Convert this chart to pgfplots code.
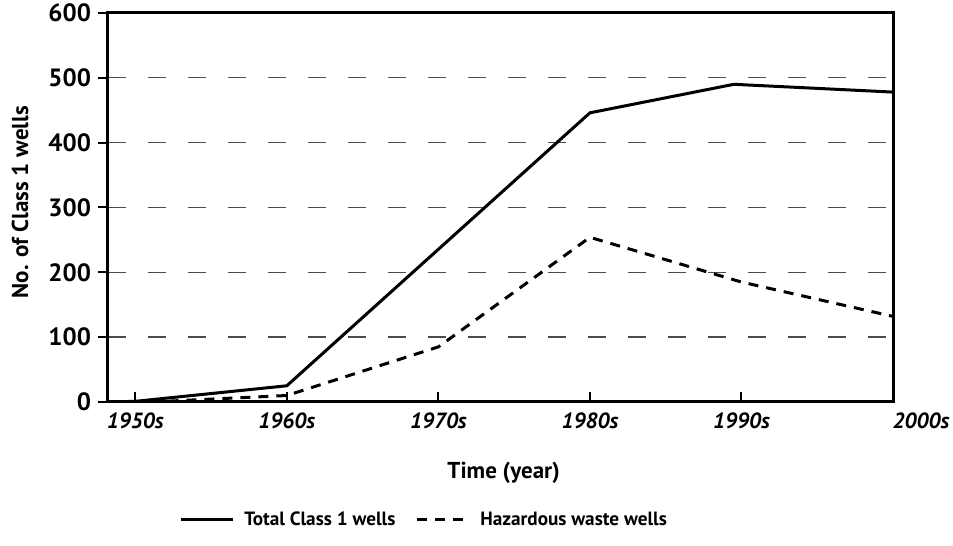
\documentclass[border=0pt]{standalone}
\usepackage{pgfplots}
\pgfplotsset{compat=1.18}
\usepackage{fontspec}
\setmainfont{PT Sans}
\begin{document}
\begin{tikzpicture}
\begin{axis}[
  name=ax,
  scale only axis,
  width=392.5pt, height=194.5pt,
  xmin=1948.2, xmax=2000,
  ymin=0, ymax=600,
  axis line style={line width=1.5pt},
  xtick={1950,1960,1970,1980,1990},
  xticklabels={1950s,1960s,1970s,1980s,1990s},
  extra x ticks={2000},
  extra x tick labels={2000s},
  extra x tick style={xticklabel style={xshift=14pt}, major tick length=0pt},
  ytick={0,100,...,600},
  xtick align=inside,
  ytick align=outside,
  major tick length=5pt,
  tick style={line width=1pt, black},
  xtick pos=bottom, ytick pos=left,
  xticklabel style={font=\bfseries\itshape\fontsize{11}{12}\selectfont, yshift=-2pt},
  yticklabel style={font=\bfseries\fontsize{12.5}{13}\selectfont},
  /pgf/number format/assume math mode=true,
  /pgf/number format/1000 sep={},
  ymajorgrids,
  grid style={black!70, line width=0.65pt, dash pattern=on 9pt off 11pt},
  xlabel={Time (year)},
  xlabel style={font=\bfseries\fontsize{11.5}{12}\selectfont, at={(0.504,-0.183)}, anchor=center},
  ylabel={No. of Class 1 wells},
  ylabel style={font=\bfseries\fontsize{11.5}{12}\selectfont, at={(-0.112,0.514)}, anchor=center},
  legend style={draw=none, fill=none, at={(0.404,-0.303)}, anchor=center,
    font=\bfseries\fontsize{9.6}{12}\selectfont, column sep=3pt,
    /tikz/every even column/.append style={column sep=8pt}},
  legend columns=2,
  legend image code/.code={\draw[#1, line width=1.5pt] (0pt,0pt) -- (26pt,0pt);},
  legend cell align=left,
]
\addplot[black, line width=1.5pt] coordinates {
  (1948.2,0) (1950,1) (1960,25) (1980,446) (1989.5,490) (2000,478)
};
\addlegendentry{Total Class 1 wells}
\addplot[black, line width=1.5pt, dash pattern=on 5pt off 4pt] coordinates {
  (1951,0) (1960,10) (1970,85) (1980,254) (1990,185) (2000,132)
};
\addlegendentry{Hazardous waste wells}
\end{axis}
\pgfresetboundingbox
\path ([shift={(-54pt,-72pt)}]ax.south west) rectangle ([shift={(30pt,6.5pt)}]ax.north east);
\end{tikzpicture}
\end{document}
